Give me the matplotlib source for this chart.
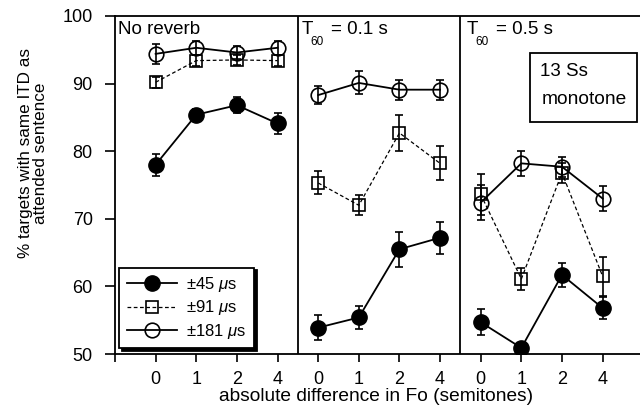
import matplotlib
matplotlib.use("Agg")
import matplotlib.pyplot as plt
from matplotlib.lines import Line2D
from matplotlib.patches import Rectangle
import numpy as np

plt.rcParams['font.family'] = ['Liberation Sans', 'DejaVu Sans']
plt.rcParams['mathtext.fontset'] = 'custom'
plt.rcParams['mathtext.rm'] = 'Liberation Sans'
plt.rcParams['mathtext.it'] = 'Liberation Sans:italic'

fo_labels = ['0', '1', '2', '4']
conditions = ['No reverb', '0.1 s', '0.5 s']

itd45 = [[78.0, 85.4, 86.8, 84.1], [53.9, 55.4, 65.5, 67.2], [54.7, 50.9, 61.7, 56.8]]
itd45_err = [[1.6, 0.9, 1.2, 1.5], [1.8, 1.7, 2.6, 2.4], [1.9, 0.8, 1.8, 1.6]]
itd91 = [[90.2, 93.4, 93.5, 93.4], [75.3, 72.0, 82.7, 78.2], [73.6, 61.1, 76.8, 61.5]]
itd91_err = [[0.8, 0.8, 0.8, 0.8], [1.7, 1.5, 2.6, 2.5], [3.0, 1.6, 1.5, 2.9]]
itd181 = [[94.4, 95.3, 94.6, 95.3], [88.3, 90.1, 89.1, 89.1], [72.4, 78.2, 77.7, 73.0]]
itd181_err = [[1.5, 1.0, 1.0, 1.0], [1.3, 1.7, 1.5, 1.5], [2.6, 1.8, 1.5, 1.8]]
series_labels = [r'$\pm$45 $\mu$s', r'$\pm$91 $\mu$s', r'$\pm$181 $\mu$s']

W, H = 640, 415
fig = plt.figure(figsize=(6.4, 4.15), dpi=100)
ax = fig.add_axes([115 / W, (H - 354) / H, 525 / W, 338 / H])

styles = [
    dict(marker='o', ms=11, mfc='black', mec='black', ls='-', lw=1.3, color='black'),
    dict(marker='s', ms=9, mfc='none', mec='black', mew=1.2, ls=(0, (3, 2)), lw=0.9, color='black'),
    dict(marker='o', ms=10.5, mfc='none', mec='black', mew=1.2, ls='-', lw=1.3, color='black'),
]
data = [(itd45, itd45_err), (itd91, itd91_err), (itd181, itd181_err)]

for p in range(len(conditions)):
    xs = np.arange(len(fo_labels)) + 4 * p
    for (vals, errs), st in zip(data, styles):
        ax.errorbar(xs, vals[p], yerr=errs[p], ecolor='black', elinewidth=1.2,
                    capsize=3, capthick=1.2, **st)

ax.set_xlim(-1, 11.92)
ax.set_ylim(50, 100)
for xv in [3.5, 7.5]:
    ax.axvline(xv, color='black', lw=1.3)

ticks = list(range(12))
ax.set_xticks([-1] + ticks)
ax.set_xticklabels([''] + fo_labels * 3)
ax.set_yticks([50, 60, 70, 80, 90, 100])
ax.tick_params(axis='x', direction='out', length=6, width=1.2, pad=6, labelsize=13)
ax.tick_params(axis='y', direction='out', length=7, width=1.2, pad=9, labelsize=13)
ax.spines['right'].set_visible(False)
for s in ['left', 'bottom', 'top']:
    ax.spines[s].set_linewidth(1.3)

# panel titles
fig.text(118 / W, 1 - 30 / H, conditions[0], fontsize=13.5, va='center', ha='left')
for xT, lab in [(302, conditions[1]), (467, conditions[2])]:
    fig.text(xT / W, 1 - 30 / H, 'T', fontsize=13.5, va='center', ha='left')
    fig.text((xT + 8) / W, 1 - 42 / H, '60', fontsize=8.5, va='center', ha='left')
    fig.text((xT + 29) / W, 1 - 30 / H, '= ' + lab, fontsize=13.5, va='center', ha='left')

# info box
fig.patches.append(Rectangle((530 / W, 1 - 122 / H), 107 / W, 69 / H, transform=fig.transFigure,
                             facecolor='white', edgecolor='black', lw=1.3, zorder=5))
fig.text(540 / W, 1 - 71 / H, '13 Ss', fontsize=13.5, va='center', ha='left', zorder=6)
fig.text(542 / W, 1 - 99 / H, 'monotone', fontsize=13.8, va='center', ha='left', zorder=6)

# axis labels
fig.text(33 / W, 1 - 153 / H, '% targets with same ITD as\nattended sentence', rotation=90,
         ha='center', va='center', multialignment='center', fontsize=12.3, linespacing=1.0)
fig.text(376 / W, 1 - 396 / H, 'absolute difference in Fo (semitones)', ha='center', va='center', fontsize=13.8)

handles = [Line2D([], [], **st) for st in styles]
leg = ax.legend(handles, series_labels, loc='lower left', bbox_to_anchor=(119 / W, (H - 348) / H),
                bbox_transform=fig.transFigure, fontsize=12, frameon=True, fancybox=False,
                handlelength=3.0, handletextpad=0.6, borderpad=0.45, labelspacing=0.25,
                borderaxespad=0, shadow={'color': 'black', 'alpha': 1.0})
leg.get_frame().set_edgecolor('black')
leg.get_frame().set_linewidth(1.3)

fig.savefig('out.png', dpi=100)
